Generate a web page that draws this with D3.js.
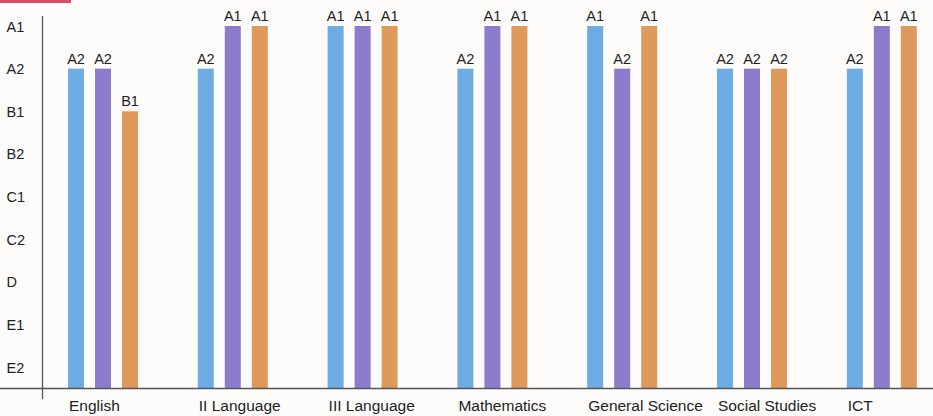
<!DOCTYPE html>
<html><head><meta charset="utf-8">
<script src="https://cdn.jsdelivr.net/npm/d3@7"></script>
<style>body{margin:0;background:#fdfcfa;}svg{display:block;}</style>
</head><body>
<svg id="c" width="933" height="416"></svg>
<script>
const grades = ["A1","A2","B1","B2","C1","C2","D","E1","E2"];
const subjects = ["English","II Language","III Language","Mathematics","General Science","Social Studies","ICT"];
const seriesNames = ["s1","s2","s3"];
const series1 = ["A2","A2","A1","A2","A1","A2","A2"];
const series2 = ["A2","A1","A1","A1","A2","A2","A1"];
const series3 = ["B1","A1","A1","A1","A1","A2","A1"];
const colors = ["#6dade4","#8d7bcb","#dd9a5c"];

const svg = d3.select("#c");
const baseY = 388;
const y = d3.scalePoint().domain(grades).range([26, 367]);
const x = d3.scaleBand().domain(subjects).range([68, 68 + 7*129.8]).padding(0);
const xs = d3.scalePoint().domain(seriesNames).range([0, 54]);
const bw = 16;

svg.append("rect").attr("x",0).attr("y",-4).attr("width",71).attr("height",7).attr("fill","#d94b68");

const all = [series1, series2, series3];
all.forEach((ser, si) => {
  const g = svg.append("g");
  g.selectAll("rect").data(subjects).enter().append("rect")
    .attr("x", d => x(d) + xs(seriesNames[si]))
    .attr("y", (d,i) => y(ser[i]))
    .attr("width", bw)
    .attr("height", (d,i) => baseY - y(ser[i]))
    .attr("fill", colors[si]);
  g.selectAll("text").data(subjects).enter().append("text")
    .attr("x", d => x(d) + xs(seriesNames[si]) + bw/2)
    .attr("y", (d,i) => y(ser[i]) - 5)
    .attr("text-anchor","middle")
    .attr("font-family","Liberation Sans, Arial, sans-serif")
    .attr("font-size",14.5).attr("fill","#222")
    .text((d,i) => ser[i]);
});

// axes
const yAxis = d3.axisLeft(y).tickSize(0).tickPadding(0);
const ga = svg.append("g").attr("transform","translate(42.5,0)").call(yAxis);
ga.select(".domain").remove();
ga.selectAll("text").attr("x",-36).attr("text-anchor","start").attr("dy","0.35em")
  .attr("font-family","Liberation Sans, Arial, sans-serif").attr("font-size",14.5).attr("fill","#222");
svg.append("line").attr("x1",42.5).attr("x2",42.5).attr("y1",16).attr("y2",399)
  .attr("stroke","#555").attr("stroke-width",1.3);

const xAxis = d3.axisBottom(x).tickSize(0).tickPadding(0);
const gx = svg.append("g").attr("transform",`translate(0,${baseY})`).call(xAxis);
gx.select(".domain").remove();
gx.selectAll(".tick").attr("transform", d => `translate(${x(d)+1},0)`);
gx.selectAll("text").attr("text-anchor","start").attr("y",23).attr("dy",0)
  .attr("font-family","Liberation Sans, Arial, sans-serif").attr("font-size",15.5).attr("fill","#222");
svg.append("line").attr("x1",0).attr("x2",933).attr("y1",baseY+0.5).attr("y2",baseY+0.5)
  .attr("stroke","#555").attr("stroke-width",1.3);
</script>
</body></html>
